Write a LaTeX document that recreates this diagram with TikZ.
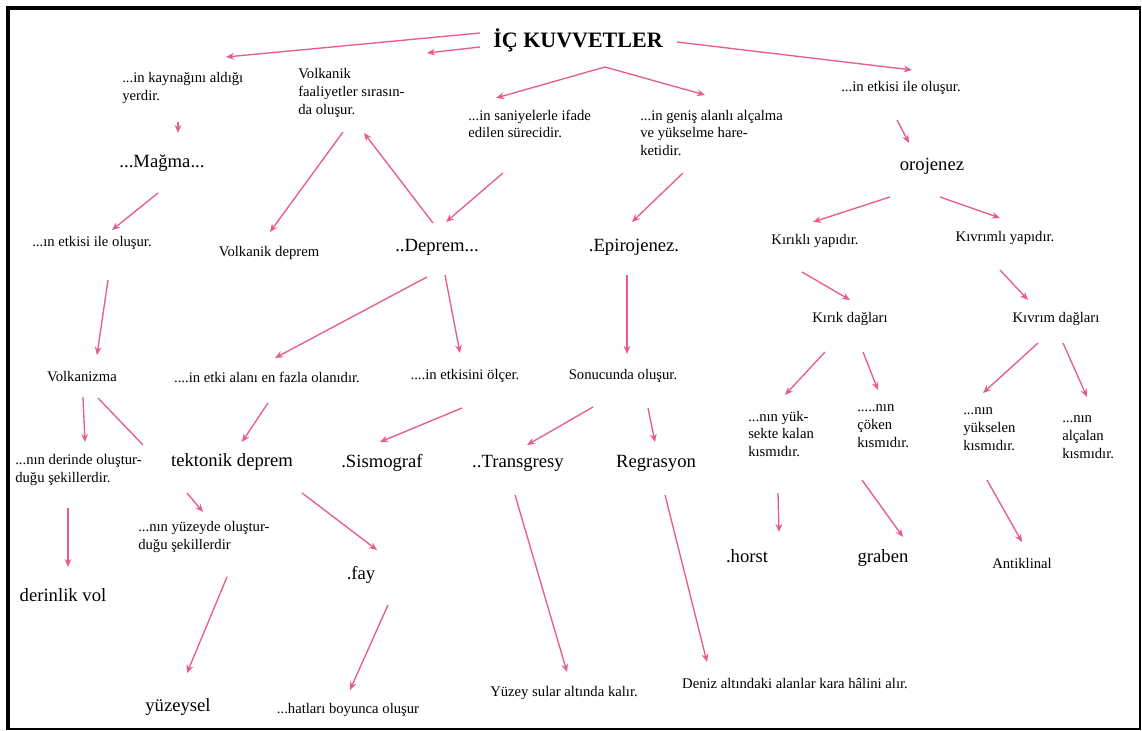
\documentclass[tikz,border=0pt]{standalone}
\usepackage{fontspec}
\setmainfont{Liberation Serif}
\usetikzlibrary{arrows.meta,calc}
\definecolor{arrpink}{RGB}{232,92,138}
\tikzset{
  sm/.style={font=\fontsize{11}{13.4}\selectfont, inner sep=0pt},
  md/.style={font=\fontsize{14}{16}\selectfont, inner sep=0pt},
  ml/.style={sm, align=left, anchor=west},
  arr/.style={draw=arrpink, line width=1pt, -{Stealth[length=6pt,width=5pt]}},
  lnk/.style={draw=arrpink, line width=1pt},
  frame/.style={draw=black}
}
\begin{document}
\begin{tikzpicture}[x=0.75pt,y=-0.75pt]
\useasboundingbox (0,0) rectangle (1142,731);
\fill[white] (0,0) rectangle (1142,731);
% frame
\draw[frame, line width=3pt] (6,8) -- (1141,8);
\draw[frame, line width=3pt] (8,6) -- (8,730);
\draw[frame, line width=1.2pt] (1140.2,8) -- (1140.2,730);
\draw[frame, line width=1.2pt] (8,728.9) -- (1141,728.9);

% nodes
\node[inner sep=0pt, font=\fontsize{16.5}{19}\selectfont\bfseries] (ic) at (578,40) {İÇ KUVVETLER};
\node[ml] (kaynak) at (122,88) {...in kaynağını aldığı\\yerdir.};
\node[ml] (volkfaal) at (298,93) {Volkanik\\faaliyetler sırasın-\\da oluşur.};
\node[ml] (saniye) at (468,124) {...in saniyelerle ifade\\edilen sürecidir.};
\node[ml] (genis) at (640,133) {...in geniş alanlı alçalma\\ve yükselme hare-\\ketidir.};
\node[sm] (etkisi1) at (901,88) {...in etkisi ile oluşur.};
\node[md] (magma) at (162,163) {...Mağma...};
\node[sm] (etkisi2) at (92,243) {...ın etkisi ile oluşur.};
\node[sm] (volkdep) at (269,253) {Volkanik deprem};
\node[md] (deprem) at (437,247) {..Deprem...};
\node[md] (epiro) at (634,247) {.Epirojenez.};
\node[md] (orojenez) at (932,166) {orojenez};
\node[sm] (kirikli) at (815,241) {Kırıklı yapıdır.};
\node[sm] (kivrimli) at (1005,238) {Kıvrımlı yapıdır.};
\node[sm] (volkanizma) at (82,377) {Volkanizma};
\node[sm] (etkialani) at (267,377) {....in etki alanı en fazla olanıdır.};
\node[sm] (olcer) at (465,376) {....in etkisini ölçer.};
\node[sm] (sonucunda) at (623,376) {Sonucunda oluşur.};
\node[sm] (kirikdag) at (850,319) {Kırık dağları};
\node[sm] (kivrimdag) at (1056,319) {Kıvrım dağları};
\node[ml] (derinde) at (15,470) {...nın derinde oluştur-\\duğu şekillerdir.};
\node[md] (tektonik) at (232,462) {tektonik deprem};
\node[md] (sismograf) at (382,463) {.Sismograf};
\node[md] (transgresy) at (518,463) {..Transgresy};
\node[md] (regrasyon) at (656,463) {Regrasyon};
\node[ml] (yukkalan) at (748,434) {...nın yük-\\sekte kalan\\kısmıdır.};
\node[ml] (coken) at (857,426) {.....nın\\çöken\\kısmıdır.};
\node[ml] (yukselen) at (963,429) {...nın\\yükselen\\kısmıdır.};
\node[ml] (alcalan) at (1062,437) {...nın\\alçalan\\kısmıdır.};
\node[ml] (yuzeyde) at (138,537) {...nın yüzeyde oluştur-\\duğu şekillerdir};
\node[md] (fay) at (361,575) {.fay};
\node[md] (derinlik) at (63,595) {derinlik vol};
\node[md] (horst) at (747,556) {.horst};
\node[md] (graben) at (883,558) {graben};
\node[sm] (antiklinal) at (1022,563) {Antiklinal};
\node[md] (yuzeysel) at (178,707) {yüzeysel};
\node[sm] (hatlari) at (348,710) {...hatları boyunca oluşur};
\node[sm] (yuzeysular) at (564,693) {Yüzey sular altında kalır.};
\node[sm] (deniz) at (795,683) {Deniz altındaki alanlar kara hâlini alır.};

% connectors
\draw[arr] ($(ic)+(-98,-7)$) -- ($(kaynak.west)+(104,-31)$);
\draw[arr] ($(ic)+(-98,7)$) -- ($(volkfaal.west)+(129,-40)$);
\draw[arr] ($(ic)+(99,2)$) -- ($(etkisi1)+(11,-18)$);
\draw[arr] ($(ic)+(27,27)$) -- ($(saniye.west)+(28,-26)$);
\draw[arr] ($(ic)+(27,27)$) -- ($(genis.west)+(65,-38)$);
\draw[arr] ($(kaynak.west)+(56,34)$) -- ($(magma)+(16,-30)$);
\draw[arr] ($(magma)+(-4,30)$) -- ($(etkisi2)+(20,-13)$);
\draw[arr] ($(volkfaal.west)+(45,39)$) -- ($(volkdep)+(1,-21)$);
\draw[arr] ($(deprem)+(-4,-24)$) -- ($(volkfaal.west)+(66,40)$);
\draw[arr] ($(saniye.west)+(35,49)$) -- ($(deprem)+(9,-25)$);
\draw[arr] ($(genis.west)+(43,40)$) -- ($(epiro)+(-2,-25)$);
\draw[arr] ($(etkisi1)+(-4,32)$) -- ($(orojenez)+(-23,-23)$);
\draw[arr] ($(orojenez)+(-42,31)$) -- ($(kirikli)+(-2,-19)$);
\draw[arr] ($(orojenez)+(8,31)$) -- ($(kivrimli)+(-5,-20)$);
\draw[arr] ($(etkisi2)+(16,37)$) -- ($(volkanizma)+(15,-22)$);
\draw[arr] ($(deprem)+(-10,30)$) -- ($(etkialani)+(8,-19)$);
\draw[arr] ($(deprem)+(8,28)$) -- ($(olcer)+(-5,-23)$);
\draw[arr] ($(epiro)+(-7,28)$) -- ($(sonucunda)+(4,-22)$);
\draw[arr] ($(kirikli)+(-13,31)$) -- ($(kirikdag)+(0,-19)$);
\draw[arr] ($(kivrimli)+(-5,32)$) -- ($(kivrimdag)+(-28,-19)$);
\draw[arr] ($(volkanizma)+(1,20)$) -- ($(derinde.west)+(70,-28)$);
\draw[lnk] ($(volkanizma)+(16,21)$) -- ($(tektonik)+(-89,-17)$);
\draw[arr] ($(etkialani)+(1,26)$) -- ($(tektonik)+(10,-20)$);
\draw[arr] ($(olcer)+(-3,32)$) -- ($(sismograf)+(-2,-21)$);
\draw[arr] ($(sonucunda)+(-30,31)$) -- ($(transgresy)+(9,-18)$);
\draw[arr] ($(sonucunda)+(25,32)$) -- ($(regrasyon)+(-1,-21)$);
\draw[arr] ($(kirikdag)+(-25,33)$) -- ($(yukkalan.west)+(37,-39)$);
\draw[arr] ($(kirikdag)+(13,33)$) -- ($(coken.west)+(21,-36)$);
\draw[arr] ($(kivrimdag)+(-18,24)$) -- ($(yukselen.west)+(20,-36)$);
\draw[arr] ($(kivrimdag)+(7,24)$) -- ($(alcalan.west)+(25,-40)$);
\draw[arr] ($(derinde.west)+(53,38)$) -- ($(derinlik)+(5,-28)$);
\draw[arr] ($(tektonik)+(-45,31)$) -- ($(yuzeyde.west)+(65,-25)$);
\draw[arr] ($(tektonik)+(70,31)$) -- ($(fay)+(16,-25)$);
\draw[arr] ($(yuzeyde.west)+(89,40)$) -- ($(yuzeysel)+(9,-34)$);
\draw[arr] ($(fay)+(27,30)$) -- ($(hatlari)+(2,-20)$);
\draw[arr] ($(transgresy)+(-3,32)$) -- ($(yuzeysular)+(3,-21)$);
\draw[arr] ($(regrasyon)+(9,32)$) -- ($(deniz)+(-88,-21)$);
\draw[arr] ($(yukkalan.west)+(30,59)$) -- ($(horst)+(32,-24)$);
\draw[arr] ($(coken.west)+(5,54)$) -- ($(graben)+(20,-21)$);
\draw[arr] ($(yukselen.west)+(24,51)$) -- ($(antiklinal)+(0,-21)$);
\end{tikzpicture}
\end{document}
